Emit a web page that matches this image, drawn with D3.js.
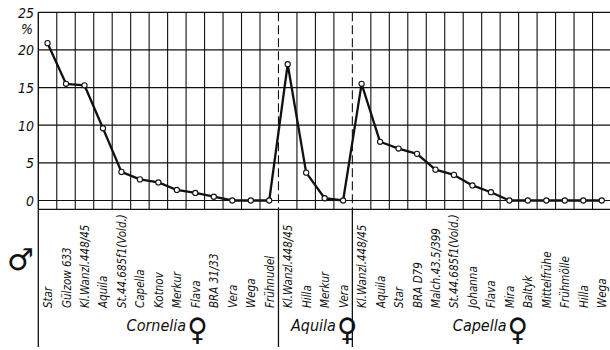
<!DOCTYPE html>
<html><head><meta charset="utf-8">
<script src="https://cdn.jsdelivr.net/npm/d3@7"></script>
<style>
body{margin:0;background:#fff}
svg{display:block}
text{fill:#111}
</style>
</head><body>
<svg id="chart" width="610" height="350"></svg>
<script>
// ---- data ----
const corneliaLabels = ["Star","Gülzow 633","Kl.Wanzl.448/45","Aquila","St.44.685f1(Vold.)","Capella","Kotnov","Merkur","Flava","BRA 31/33","Vera","Wega","Frühnudel"];
const corneliaValues = [20.9,15.5,15.3,9.6,3.8,2.8,2.4,1.4,1.0,0.5,0,0,0];
const aquilaLabels = ["Kl.Wanzl.448/45","Hilla","Merkur","Vera"];
const aquilaValues = [18.1,3.7,0.3,0];
const capellaLabels = ["Kl.Wanzl.448/45","Aquila","Star","BRA D79","Malch.43.5/399","St.44.685f1(Vold.)","Johanna","Flava","Mira","Baltyk","Mittelfrühe","Frühmölle","Hilla","Wega"];
const capellaValues = [15.5,7.8,6.9,6.2,4.1,3.4,2.0,1.1,0,0,0,0,0,0];
const groupNames = ["Cornelia","Aquila","Capella"];
const yTicks = [0,5,10,15,20,25];

(function(){
// ---- build ----
const groups = [
  {name: groupNames[0], labels: corneliaLabels, values: corneliaValues},
  {name: groupNames[1], labels: aquilaLabels, values: aquilaValues},
  {name: groupNames[2], labels: capellaLabels, values: capellaValues}
];
const points = [];
const groupStarts = [];
groups.forEach(g => {
  groupStarts.push(points.length);
  g.start = points.length;
  g.labels.forEach((l, i) => points.push({label: l, value: g.values[i], group: g.name}));
  g.end = points.length;
});

const svg = d3.select("#chart");
const pLeft = 38.3, pRight = 611, pTop = 12.3, zeroY = 200.5, axisBottom = 209.3, lineBottom = 347;
const x = d3.scaleBand().domain(d3.range(points.length)).range([pLeft, pRight]).padding(0);
const y = d3.scaleLinear().domain([0, 25]).range([zeroY, pTop]);
const bw = x.bandwidth();
const ink = "#111";

// horizontal grid
svg.append("g").selectAll("line").data(yTicks).join("line")
  .attr("x1", pLeft).attr("x2", pRight)
  .attr("y1", d => y(d)).attr("y2", d => y(d))
  .attr("stroke", ink).attr("stroke-width", 1.2);
// bottom frame line
svg.append("line").attr("x1", pLeft).attr("x2", pRight).attr("y1", axisBottom).attr("y2", axisBottom)
  .attr("stroke", ink).attr("stroke-width", 1.3);

// vertical grid (boundaries)
const bounds = d3.range(points.length + 1).map(i => i < points.length ? x(i) : x(points.length-1) + bw);
const sepIdx = groupStarts.slice(1);
svg.append("g").selectAll("line").data(bounds.map((b, i) => ({b, i}))).join("line")
  .attr("x1", d => d.b).attr("x2", d => d.b)
  .attr("y1", pTop).attr("y2", axisBottom)
  .attr("stroke", ink).attr("stroke-width", d => d.i === 0 ? 1.4 : 1.1)
  .attr("stroke-dasharray", d => sepIdx.includes(d.i) ? "9,4" : null);
// lower extensions of left edge and group separators
svg.append("g").selectAll("line").data([0, ...sepIdx]).join("line")
  .attr("x1", i => bounds[i]).attr("x2", i => bounds[i])
  .attr("y1", axisBottom).attr("y2", lineBottom)
  .attr("stroke", ink).attr("stroke-width", 1.3);

// y labels
const yLab = svg.append("g").attr("font-family", "'DejaVu Sans Condensed','DejaVu Sans',sans-serif")
  .attr("font-style", "italic").attr("font-size", 14);
yLab.selectAll("text").data(yTicks).join("text")
  .attr("x", 34).attr("y", d => y(d) + 5.5).attr("text-anchor", "end")
  .text(d => d);
yLab.append("text").attr("x", 33).attr("y", 34).attr("text-anchor", "end").attr("font-size", 14).text("%");

// line
const line = d3.line().x((d, i) => x(i) + bw/2).y(d => y(d.value));
svg.append("path").datum(points).attr("d", line)
  .attr("fill", "none").attr("stroke", ink).attr("stroke-width", 2.3).attr("stroke-linejoin", "round");
svg.append("g").selectAll("circle").data(points).join("circle")
  .attr("cx", (d, i) => x(i) + bw/2).attr("cy", d => y(d.value)).attr("r", 2.6)
  .attr("fill", "#fff").attr("stroke", ink).attr("stroke-width", 1.1);

// category labels (rotated)
svg.append("g").attr("font-family", "'DejaVu Sans Condensed','DejaVu Sans',sans-serif")
  .attr("font-style", "italic").attr("font-size", 11.5)
  .selectAll("text").data(points).join("text")
  .attr("transform", (d, i) => `translate(${x(i) + bw/2 + 4.5},308) rotate(-90)`)
  .attr("text-anchor", "start")
  .text(d => d.label);

// group labels
const gl = svg.append("g").attr("font-family", "'DejaVu Sans Condensed','DejaVu Sans',sans-serif")
  .attr("font-style", "italic").attr("font-size", 16);
groups.forEach(g => {
  const cx = (x(g.start) + x(g.end - 1) + bw) / 2 - 2;
  const t = gl.append("text").attr("x", cx).attr("y", 331).attr("text-anchor", "middle").text(g.name);
  const bb = t.node().getBBox();
  gl.append("text").attr("x", bb.x + bb.width + 1).attr("y", 340)
    .attr("font-style", "normal").attr("font-size", 31).text("♀");
});

// male symbol
svg.append("text").attr("x", 7).attr("y", 270).attr("font-family", "'DejaVu Sans',sans-serif")
  .attr("font-size", 30).text("♂");
})();
</script>
</body></html>
